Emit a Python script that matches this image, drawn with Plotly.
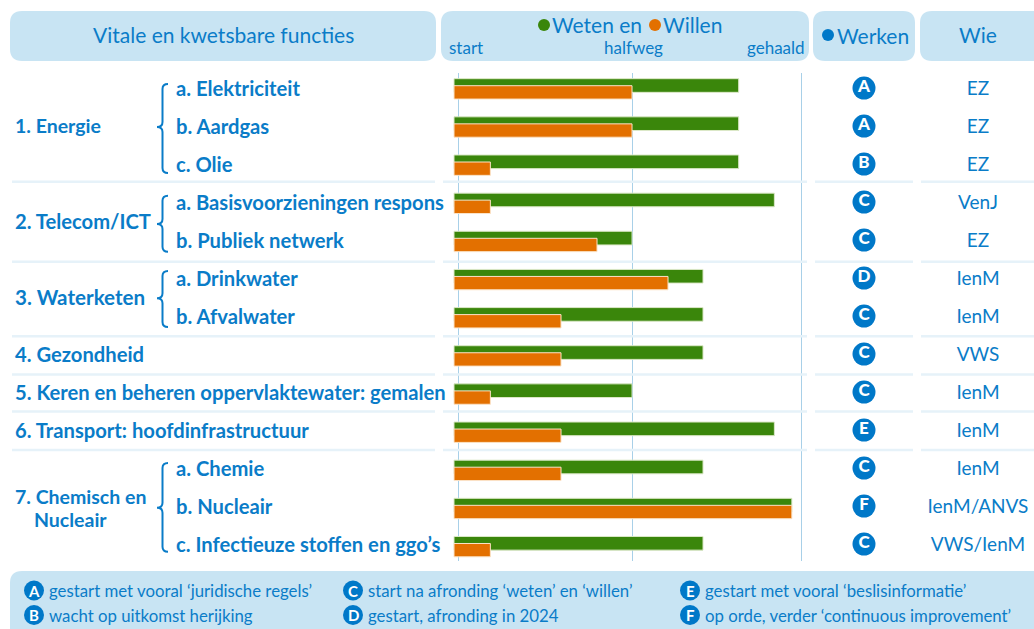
import plotly.graph_objects as go

W, H = 1034, 629
BLUE = "#0a7cc8"
BOX = "#c8e4f3"
SEP = "#e6f2f9"
FONT = "Lato"

# ---- data ----
rows = ["a. Elektriciteit", "b. Aardgas", "c. Olie", "a. Basisvoorzieningen respons",
        "b. Publiek netwerk", "a. Drinkwater", "b. Afvalwater", "4. Gezondheid",
        "5. Keren en beheren oppervlaktewater: gemalen", "6. Transport: hoofdinfrastructuur",
        "a. Chemie", "b. Nucleair", "c. Infectieuze stoffen en ggo\u2019s"]
weten = [83, 83, 83, 93.4, 51.9, 72.6, 72.6, 72.6, 51.9, 93.4, 72.6, 98.5, 72.6]
willen = [51.9, 51.9, 10.6, 10.6, 41.7, 62.4, 31.2, 31.2, 10.6, 31.2, 31.2, 98.5, 10.6]
werken = ["A", "A", "B", "C", "C", "D", "C", "C", "C", "E", "C", "F", "C"]
wie = ["EZ", "EZ", "EZ", "VenJ", "EZ", "IenM", "IenM", "VWS", "IenM", "IenM", "IenM", "IenM/ANVS", "VWS/IenM"]
mijlpalen = [1.3, 51.9, 101.3]
groepen = [("1. Energie", 126, 19.5), ("2. Telecom/ICT", 221, 20.2), ("3. Waterketen", 297, 20.6),
           ("7. Chemisch en", 496, 19.5)]
legenda = [("A", "gestart met vooral \u2018juridische regels\u2019", 34, 590.5),
           ("B", "wacht op uitkomst herijking", 34, 615),
           ("C", "start na afronding \u2018weten\u2019 en \u2018willen\u2019", 353, 590.5),
           ("D", "gestart, afronding in 2024", 353, 615),
           ("E", "gestart met vooral \u2018beslisinformatie\u2019", 690, 590.5),
           ("F", "op orde, verder \u2018continuous improvement\u2019", 690, 615)]

def px(x): return x / W
def py(y): return 1 - y / H
def pt(x, y): return f"{px(x):.5f} {py(y):.5f}"

def rrect(x0, y0, x1, y1, r=12, fill=BOX):
    d = (f"M {pt(x0+r, y0)} L {pt(x1-r, y0)} Q {pt(x1, y0)} {pt(x1, y0+r)} L {pt(x1, y1-r)} "
         f"Q {pt(x1, y1)} {pt(x1-r, y1)} L {pt(x0+r, y1)} Q {pt(x0, y1)} {pt(x0, y1-r)} "
         f"L {pt(x0, y0+r)} Q {pt(x0, y0)} {pt(x0+r, y0)} Z")
    return dict(type="path", path=d, xref="paper", yref="paper", fillcolor=fill, line_width=0, layer="below")

def brace(top, mid, bot, x=162.5):
    d = (f"M {pt(x+5.5, top)} Q {pt(x, top)} {pt(x, top+5)} L {pt(x, mid-5)} Q {pt(x, mid)} {pt(x-5.5, mid)} "
         f"Q {pt(x, mid)} {pt(x, mid+5)} L {pt(x, bot-5)} Q {pt(x, bot)} {pt(x+5.5, bot)}")
    return dict(type="path", path=d, xref="paper", yref="paper", line=dict(color=BLUE, width=2))

def dot(cx, cy, r, color):
    return dict(type="circle", xref="paper", yref="paper", x0=px(cx-r), x1=px(cx+r), y0=py(cy+r), y1=py(cy-r),
                fillcolor=color, line_width=0)

def label(text, x, y, size, anchor="left", color=BLUE, bold=False):
    shift = {"left": -2, "center": 0, "right": 2}[anchor]
    return dict(text=f"<b>{text}</b>" if bold else text, x=px(x + shift), y=py(y), xref="paper", yref="paper",
                showarrow=False, xanchor=anchor, yanchor="middle",
                font=dict(family=FONT, size=size, color=color))

fig = go.Figure()

common = dict(y=rows, orientation="h", hoverinfo="skip", showlegend=False)
fig.add_bar(x=weten, name="Weten", width=0.358, offset=-0.268,
            marker=dict(color="#3a860b", line=dict(color="#dce8c8", width=1)), **common)
fig.add_bar(x=willen, name="Willen", width=0.35, offset=-0.084,
            marker=dict(color="#e37000", line=dict(color="#fbe3c8", width=1)), **common)

# Werken column and Wie column
fig.add_scatter(x=[864] * len(rows), y=rows, xaxis="x2", yaxis="y2", mode="markers+text", text=werken,
                textposition="middle center", hoverinfo="skip", showlegend=False, cliponaxis=False,
                marker=dict(size=23, color="#0078c8", line_width=0),
                textfont=dict(family=FONT, size=17, color="white", weight=900))
fig.add_scatter(x=[978] * len(rows), y=rows, xaxis="x2", yaxis="y3", mode="text", text=wie,
                textposition="middle center", hoverinfo="skip", showlegend=False, cliponaxis=False,
                textfont=dict(family=FONT, size=19, color=BLUE))

shapes = [rrect(10, 11, 436, 61), rrect(441, 11, 809, 61), rrect(813, 11, 915, 61),
          rrect(920, 11, 1046, 61), rrect(10, 571, 1046, 650)]
for y in [181.7, 261.7, 336.3, 374.5, 411.5, 450]:
    for a, b in [(12, 435), (443, 807), (815, 913), (921, 1034)]:
        shapes.append(dict(type="line", xref="paper", yref="paper", x0=px(a), x1=px(b), y0=py(y), y1=py(y),
                           line=dict(color=SEP, width=2.5)))
shapes += [brace(84, 127, 173), brace(195.7, 224, 251.7), brace(271, 298.3, 327), brace(463, 507.7, 551.7)]
shapes += [dot(544, 25, 6, "#3a860b"), dot(655, 25, 6, "#e37000"), dot(828, 35, 6, "#0078c8")]

ann = [label("Vitale en kwetsbare functies", 223, 34, 21, "center"),
       label("Weten en", 552, 25, 21), label("Willen", 663, 25, 21),
       label("start", 449, 47.5, 17), label("halfweg", 633, 47.5, 17, "center"),
       label("gehaald", 805, 47.5, 17, "right"),
       label("Werken", 837, 35, 21), label("Wie", 978, 34, 21, "center")]
row_y = [88 + 38 * i for i in range(len(rows))]
for r, y in zip(rows, row_y):
    x = 176 if r[0] in "abc" else 15
    ann.append(label(r, x, y, 20.2, bold=True))
for g, y, s in groepen:
    ann.append(label(g, 15, y, s, bold=True))
ann.append(label("Nucleair", 34, 519, 19.5, bold=True))
for k, t, cx, cy in legenda:
    shapes.append(dot(cx, cy, 10, "#0078c8"))
    ann.append(label(k, cx, cy, 15, "center", "white", True))
    ann.append(label(t, cx + 14.5, cy, 16.8))

fig.update_layout(
    width=W, height=H, margin=dict(l=0, r=0, t=0, b=0), barmode="overlay",
    paper_bgcolor="white", plot_bgcolor="rgba(0,0,0,0)", shapes=shapes, annotations=ann,
    font=dict(family=FONT, color=BLUE),
    xaxis=dict(domain=[0, 1], range=[-454 / 3.43, (W - 454) / 3.43], tickmode="array", tickvals=mijlpalen,
               showticklabels=False, showgrid=True, gridcolor="#a8d0e8", gridwidth=1, zeroline=False,
               showline=False, ticks="", anchor="y"),
    yaxis=dict(domain=[py(561), py(73)], type="category", categoryorder="array", categoryarray=rows,
               range=[12.375, -0.417], showticklabels=False, showgrid=False, zeroline=False, ticks=""),
    xaxis2=dict(domain=[0, 1], range=[0, W], visible=False, anchor="y2", overlaying="x"),
    yaxis2=dict(type="category", categoryorder="array", categoryarray=rows, overlaying="y", anchor="x2",
                range=[12.447, -0.395], visible=False),
    yaxis3=dict(type="category", categoryorder="array", categoryarray=rows, overlaying="y", anchor="x2",
                range=[12.395, -0.447], visible=False),
)
fig.write_html("out.html", config={"displayModeBar": False}, post_script="document.body.style.margin='0';")
